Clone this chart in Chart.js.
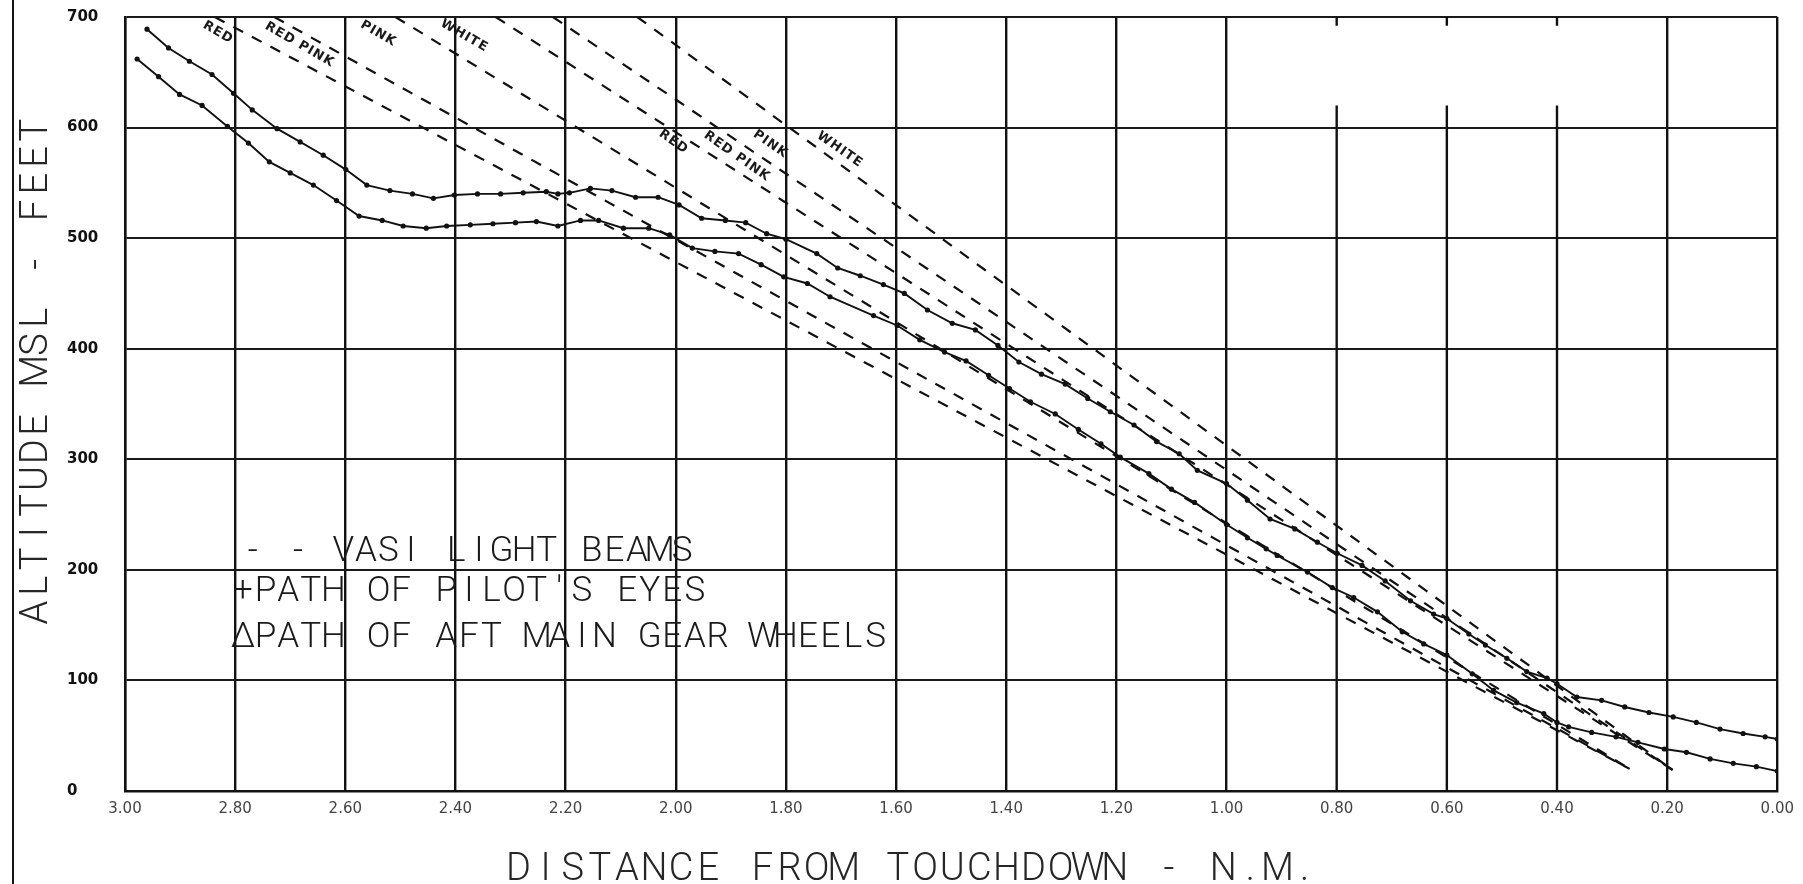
<!DOCTYPE html>
<html>
<head>
<meta charset="utf-8">
<script src="https://cdn.jsdelivr.net/npm/chart.js@4/dist/chart.umd.min.js"></script>
<style>
    html, body { margin: 0; padding: 0; background: #fff; }
    #wrap { position: relative; width: 1803px; height: 884px; }
    #frame { position: absolute; left: 12px; top: 0; width: 2px; height: 884px; background: #151515; }
</style>
</head>
<body>
<div id="wrap">
    <canvas id="vasiChart" width="1803" height="884"></canvas>
    <div id="frame"></div>
</div>
<script>
/* ============================================================
   DATOS
============================================================ */

// trayectoria de los ojos del piloto (N.M., pies MSL)
const eyesDist = [2.960, 2.921, 2.883, 2.842, 2.803, 2.769, 2.724, 2.682, 2.640, 2.599,
    2.561, 2.519, 2.478, 2.440, 2.402, 2.360, 2.318, 2.277, 2.235, 2.214,
    2.193, 2.155, 2.116, 2.073, 2.032, 1.994, 1.953, 1.910, 1.873, 1.835,
    1.800, 1.744, 1.706, 1.665, 1.623, 1.585, 1.543, 1.498, 1.456, 1.415,
    1.377, 1.336, 1.293, 1.252, 1.211, 1.168, 1.127, 1.086, 1.053, 1.000,
    0.962, 0.921, 0.876, 0.835, 0.799, 0.754, 0.712, 0.666, 0.624, 0.600,
    0.560, 0.530, 0.491, 0.455, 0.418, 0.400, 0.364, 0.319, 0.277, 0.233,
    0.189, 0.147, 0.104, 0.062, 0.022, 0.000];
const eyesAlt = [689, 672, 660, 648, 631, 616, 599, 587, 575, 562,
    548, 543, 540, 536, 539, 540, 540, 541, 542, 540,
    541, 545, 543, 537, 537, 530, 518, 516, 514, 504,
    499, 486, 473, 466, 458, 450, 435, 423, 417, 403,
    388, 377, 368, 355, 343, 331, 316, 305, 290, 278,
    263, 246, 237, 225, 215, 204, 190, 172, 160, 156,
    142, 132, 120, 108, 102, 97, 85, 82, 76, 71,
    67, 62, 56, 52, 49, 47];

// trayectoria de las ruedas del tren principal trasero
const gearDist = [2.978, 2.939, 2.901, 2.860, 2.814, 2.776, 2.738, 2.700, 2.658, 2.616,
    2.575, 2.533, 2.495, 2.453, 2.416, 2.373, 2.332, 2.291, 2.253, 2.214,
    2.173, 2.140, 2.095, 2.049, 2.011, 1.970, 1.929, 1.886, 1.845, 1.804,
    1.761, 1.720, 1.641, 1.598, 1.557, 1.512, 1.473, 1.432, 1.394, 1.356,
    1.311, 1.269, 1.228, 1.193, 1.141, 1.100, 1.058, 1.000, 0.962, 0.928,
    0.908, 0.853, 0.808, 0.769, 0.726, 0.681, 0.642, 0.600, 0.554, 0.515,
    0.473, 0.424, 0.400, 0.379, 0.337, 0.293, 0.253, 0.205, 0.165, 0.122,
    0.080, 0.038, 0.000];
const gearAlt = [662, 646, 630, 620, 601, 586, 569, 559, 548, 534,
    520, 516, 511, 509, 511, 512, 513, 514, 515, 511,
    516, 516, 509, 509, 503, 491, 488, 486, 476, 465,
    459, 447, 430, 421, 408, 397, 389, 376, 364, 352,
    341, 327, 314, 302, 287, 273, 261, 241, 229, 219,
    213, 198, 184, 175, 162, 144, 133, 123, 106, 91,
    80, 70, 62, 58, 53, 49, 44, 38, 35, 29,
    25, 22, 18];

// haces VASI: inicio arriba, final en la barra de luces
const beamStartDist = [2.837, 2.729, 2.509, 2.327, 2.223, 2.070];
const beamStartAlt  = [700, 700, 700, 700, 700, 700];
const beamEndDist   = [0.268, 0.268, 0.268, 0.190, 0.190, 0.190];
const beamEndAlt    = [20, 20, 20, 19, 19, 19];

// etiquetas de color de los haces
const beamLabels    = ["RED", "RED PINK", "PINK", "WHITE", "RED", "RED PINK", "PINK", "WHITE"];
const beamLabelDist = [2.831, 2.683, 2.540, 2.384, 2.004, 1.889, 1.828, 1.702];
const beamLabelAlt  = [686, 675, 685, 683, 587, 574, 585, 580];

// leyenda escrita dentro del gráfico
const legendLines = ["- - VASI LIGHT BEAMS", "+PATH OF PILOT'S EYES", "\u0394PATH OF AFT MAIN GEAR WHEELS"];
const legendDist  = [2.783, 2.801, 2.801];
const legendAlt   = [208, 172, 130];

// líneas verticales de la cuadrícula que en el original empiezan más abajo
const shortGridDist = [0.8, 0.6, 0.4];
const shortGridTop  = 620;

const xTitle = "DISTANCE FROM TOUCHDOWN - N.M.";
const yTitle = "ALTITUDE MSL - FEET";

/* ============================================================
   TEXTOS (rotulado de paso fijo, como el original)
============================================================ */

function monoText(ctx, text, x, y, font, advance) {
    ctx.font = font;
    ctx.textAlign = "center";
    for (let i = 0; i < text.length; i++) {
        ctx.fillText(text[i], x + i * advance + advance / 2, y);
    }
}

const scanText = {
    id: "scanText",
    afterDatasetsDraw(chart) {
        const ctx = chart.ctx;
        const x = chart.scales.x, y = chart.scales.y;
        ctx.save();
        ctx.fillStyle = "#1a1a1a";
        ctx.textBaseline = "alphabetic";

        // leyenda
        legendLines.forEach((t, i) => {
            monoText(ctx, t, x.getPixelForValue(legendDist[i]) - 3, y.getPixelForValue(legendAlt[i]),
                "300 35px Roboto", 22.6);
        });

        // etiquetas de los haces
        beamLabels.forEach((t, i) => {
            ctx.save();
            ctx.translate(x.getPixelForValue(beamLabelDist[i]), y.getPixelForValue(beamLabelAlt[i]));
            ctx.rotate((i < 4 ? 30 : 35) * Math.PI / 180);
            ctx.font = "bold 13px 'DejaVu Sans'";
            ctx.letterSpacing = "1px";
            ctx.textAlign = "center";
            ctx.textBaseline = "middle";
            ctx.fillText(t, 0, 0);
            ctx.restore();
        });

        // títulos de los ejes
        ctx.fillStyle = "#262626";
        monoText(ctx, xTitle, 505, 880, "300 38px Roboto", 27.1);

        ctx.save();
        ctx.translate(47, 626);
        ctx.rotate(-Math.PI / 2);
        monoText(ctx, yTitle, 0, 0, "300 38px Roboto", 26.8);
        ctx.restore();

        ctx.restore();
    }
};

/* ============================================================
   GRÁFICO
============================================================ */

const isShort = v => shortGridDist.some(d => Math.abs(v - d) < 1e-6);

const gridSets = shortGridDist.flatMap(d => [
    { data: [{ x: d, y: 0 }, { x: d, y: shortGridTop }] },
    { data: [{ x: d, y: 692 }, { x: d, y: 700 }] }
]).map(s => ({ ...s, showLine: true, borderColor: "#111", borderWidth: 2.4, pointRadius: 0, order: 10 }));

const beamSets = beamStartDist.map((d, i) => ({
    data: [{ x: d, y: beamStartAlt[i] }, { x: beamEndDist[i], y: beamEndAlt[i] }],
    showLine: true,
    borderColor: "#111",
    borderWidth: 2.2,
    borderDash: [11, 10],
    pointRadius: 0,
    order: 5
}));

const eyesSet = {
    data: eyesDist.map((d, i) => ({ x: d, y: eyesAlt[i] })),
    showLine: true,
    borderColor: "#111",
    borderWidth: 1.9,
    pointRadius: 2.6,
    pointBackgroundColor: "#111",
    pointBorderWidth: 0,
    order: 1
};

const gearSet = {
    data: gearDist.map((d, i) => ({ x: d, y: gearAlt[i] })),
    showLine: true,
    borderColor: "#111",
    borderWidth: 1.9,
    pointRadius: 2.6,
    pointBackgroundColor: "#111",
    pointBorderWidth: 0,
    order: 1
};

const ctxVasi = document.getElementById("vasiChart");
new Chart(ctxVasi, {
    type: "scatter",
    data: { datasets: [...gridSets, ...beamSets, eyesSet, gearSet] },
    options: {
        responsive: false,
        animation: false,
        layout: { padding: { left: 67, right: 22, top: 17, bottom: 0 } },
        plugins: { legend: { display: false }, tooltip: { enabled: false } },
        scales: {
            x: {
                type: "linear",
                reverse: true,
                min: 0,
                max: 3,
                ticks: {
                    stepSize: 0.2,
                    autoSkip: false,
                    maxRotation: 0,
                    padding: 9,
                    color: "#444",
                    font: { family: "'DejaVu Sans'", size: 15 },
                    callback: v => v.toFixed(2)
                },
                grid: {
                    color: c => (c.tick && isShort(c.tick.value)) ? "rgba(0,0,0,0)" : "#111",
                    lineWidth: 2.4,
                    drawTicks: false
                },
                border: { color: "#111", width: 2.4 },
                afterFit: s => { s.height = 93; }
            },
            y: {
                min: 0,
                max: 700,
                ticks: {
                    stepSize: 100,
                    crossAlign: "far",
                    color: "#111",
                    font: { family: "'DejaVu Sans'", size: 15, weight: "bold" }
                },
                grid: { color: "#1a1a1a", lineWidth: 2, drawTicks: false },
                border: { color: "#111", width: 2.4 },
                afterFit: s => { s.width = 58; }
            }
        }
    },
    plugins: [scanText]
});
</script>
</body>
</html>
